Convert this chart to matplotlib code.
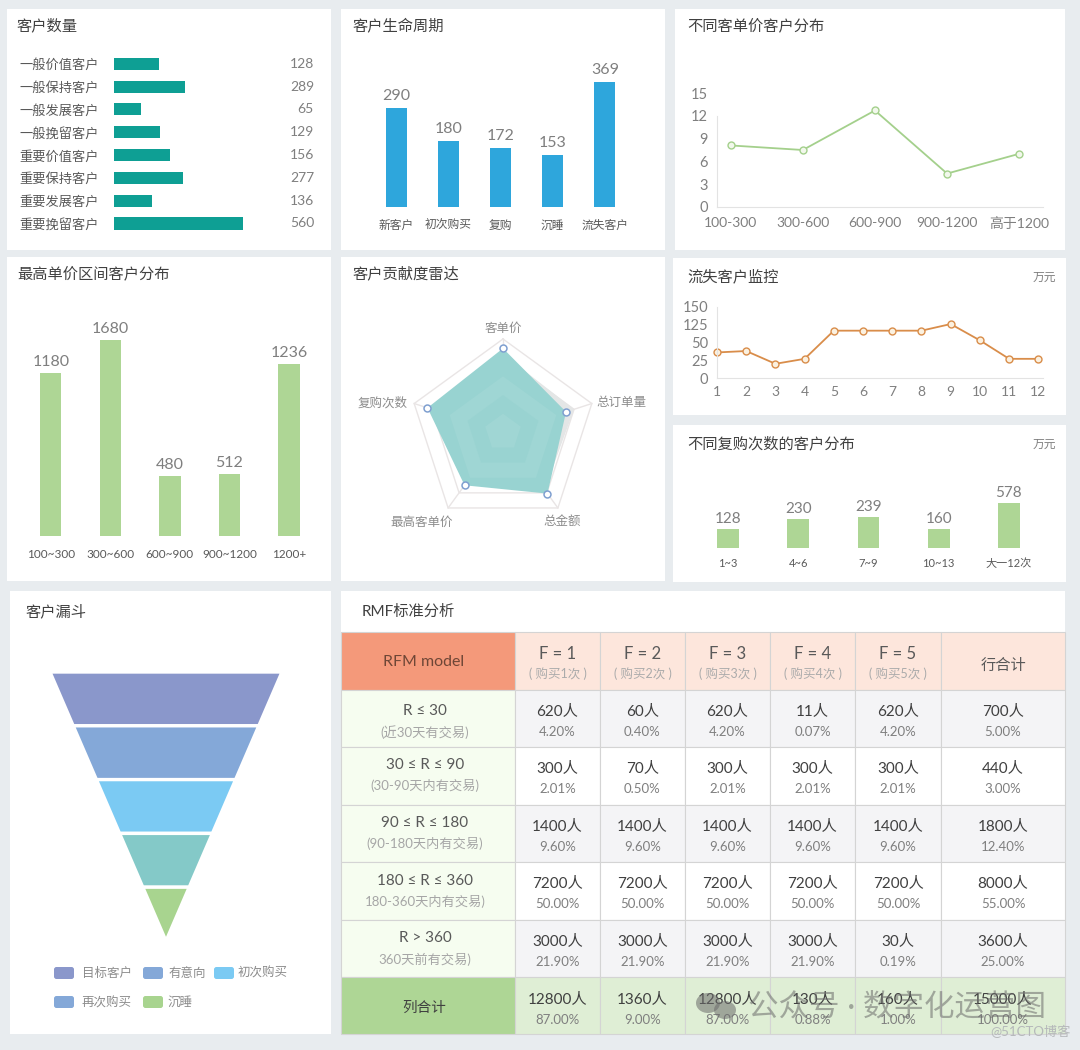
#!/usr/bin/env python3
"""Customer analysis dashboard: bars, lines, radar, funnel and the RFM table."""

import numpy as np
import matplotlib
matplotlib.use("Agg")
import matplotlib.pyplot as plt
from matplotlib.patches import Rectangle, FancyBboxPatch, Ellipse

plt.rcParams["font.family"] = ["Lato", "Noto Sans CJK SC", "DejaVu Sans"]

W, H = 1080, 1050

# 客户数量 (shown numbers do not match the drawn bar lengths in the source)
seg_names = ["一般价值客户", "一般保持客户", "一般发展客户", "一般挽留客户",
             "重要价值客户", "重要保持客户", "重要发展客户", "重要挽留客户"]
seg_values = [128, 289, 65, 129, 156, 277, 136, 560]
seg_bars = [195, 308, 117, 200, 243, 300, 165, 560]

# 客户生命周期
life_names = ["新客户", "初次购买", "复购", "沉睡", "流失客户"]
life_values = [290, 180, 172, 153, 369]
life_bars = [292, 195, 174, 153, 369]

# 不同客单价客户分布
price_names = ["100-300", "300-600", "600-900", "900-1200", "高于1200"]
price_values = [8.1, 7.5, 12.7, 4.4, 7.0]
price_ticks = [0, 3, 6, 9, 12, 15]

# 最高单价区间客户分布
top_names = ["100~300", "300~600", "600~900", "900~1200", "1200+"]
top_values = [1180, 1680, 480, 512, 1236]
top_bars = [1397, 1680, 514, 531, 1474]

# 客户贡献度雷达
radar_names = ["客单价", "总订单量", "总金额", "最高客单价", "复购次数"]
radar_a = [0.90, 0.71, 0.81, 0.70, 0.85]
radar_b = [0.84, 0.80, 0.76, 0.66, 0.76]

# 流失客户监控 (axis labels in the source skip 75 and 100)
churn_months = list(range(1, 13))
churn_values = [36, 38, 20, 27, 100, 100, 100, 100, 126, 59, 27, 27]
churn_ticks = [0, 25, 50, 125, 150]

# 不同复购次数的客户分布
repeat_names = ["1~3", "4~6", "7~9", "10~13", "大一12次"]
repeat_values = [128, 230, 239, 160, 578]
repeat_bars = [244, 372, 398, 244, 578]

# 客户漏斗
funnel_names = ["目标客户", "有意向", "初次购买", "再次购买", "沉睡"]
funnel_values = [100, 80, 60, 40, 20]
funnel_colors = ["#8a97cb", "#84a8d8", "#7bcaf3", "#84c9c8", "#a8d48f"]
legend_colors = ["#8a97cb", "#84a8d8", "#7bcaf3", "#84a8d8", "#a8d48f"]

# RFM 表
col_main = ["F = 1", "F = 2", "F = 3", "F = 4", "F = 5"]
col_sub = ["( 购买1次 )", "( 购买2次 )", "( 购买3次 )", "( 购买4次 )", "( 购买5次 )"]
row_main = ["R ≤ 30", "30 ≤ R ≤ 90", "90 ≤ R ≤ 180", "180 ≤ R ≤ 360", "R > 360"]
row_sub = ["(近30天有交易)", "(30-90天内有交易)", "(90-180天内有交易)",
           "180-360天内有交易)", "360天前有交易)"]
people = [
    [620, 60, 620, 11, 620, 700],
    [300, 70, 300, 300, 300, 440],
    [1400, 1400, 1400, 1400, 1400, 1800],
    [7200, 7200, 7200, 7200, 7200, 8000],
    [3000, 3000, 3000, 3000, 30, 3600],
    [12800, 1360, 12800, 130, 160, 15000],
]
shares = [
    ["4.20%", "0.40%", "4.20%", "0.07%", "4.20%", "5.00%"],
    ["2.01%", "0.50%", "2.01%", "2.01%", "2.01%", "3.00%"],
    ["9.60%", "9.60%", "9.60%", "9.60%", "9.60%", "12.40%"],
    ["50.00%", "50.00%", "50.00%", "50.00%", "50.00%", "55.00%"],
    ["21.90%", "21.90%", "21.90%", "21.90%", "0.19%", "25.00%"],
    ["87.00%", "9.00%", "87.00%", "0.88%", "1.00%", "100.00%"],
]

GRAY = "#7f7f7f"
DARK = "#404040"
TEAL = "#0e9f94"
BLUE = "#2ea6dc"
GREEN = "#aed695"
AXIS = "#e3e3e3"

fig = plt.figure(figsize=(W / 100, H / 100), dpi=100, facecolor="#e8ecef")


def px_axes(x0, y0, x1, y1, **kw):
    """Axes placed by pixel box, y measured from the top of the image."""
    ax = fig.add_axes([x0 / W, 1 - y1 / H, (x1 - x0) / W, (y1 - y0) / H], **kw)
    ax.patch.set_alpha(0)
    ax.set_zorder(1)
    return ax


def clean(ax, left=False):
    for side in ["top", "right", "left", "bottom"]:
        ax.spines[side].set_visible(False)
    ax.tick_params(length=0, colors=GRAY)
    if not left:
        ax.set_yticks([])


# page layer: panels, titles, legend and table use image pixels directly
bg = fig.add_axes([0, 0, 1, 1])
bg.set_xlim(0, W)
bg.set_ylim(H, 0)
bg.axis("off")
bg.set_zorder(0)

panels = [
    (7, 9, 331, 250, "客户数量", 17, 26),
    (341, 9, 665, 250, "客户生命周期", 353, 26),
    (675, 9, 1065, 250, "不同客单价客户分布", 687, 26),
    (7, 257, 331, 581, "最高单价区间客户分布", 17, 274),
    (341, 257, 665, 581, "客户贡献度雷达", 353, 274),
    (673, 258, 1066, 415, "流失客户监控", 687, 277),
    (673, 425, 1066, 582, "不同复购次数的客户分布", 687, 444),
    (10, 591, 331, 1034, "客户漏斗", 26, 612),
    (341, 591, 1065, 1034, "RMF标准分析", 362, 612),
]
for x0, y0, x1, y1, title, tx, ty in panels:
    bg.add_patch(Rectangle((x0, y0), x1 - x0, y1 - y0, fc="white", ec="none"))
    bg.text(tx, ty, title, fontsize=11, color=DARK, va="center", ha="left")
for ty in [277, 444]:
    bg.text(1056, ty, "万元", fontsize=8.5, color=GRAY, va="center", ha="right")

# 客户数量
ax = px_axes(114, 52, 314, 236)
clean(ax, left=True)
ypos = np.arange(len(seg_names))
ax.barh(ypos, seg_bars, height=0.53, color=TEAL)
ax.set_xlim(0, 868)
ax.set_ylim(7.55, -0.52)
ax.set_xticks([])
ax.set_yticks(ypos, seg_names, fontsize=9.5, ha="left", color="#595959")
ax.tick_params(axis="y", pad=68.4)
for y, v in zip(ypos, seg_values):
    ax.text(1, y, str(v), transform=ax.get_yaxis_transform(), ha="right",
            va="center", fontsize=10, color=GRAY)

# 客户生命周期
ax = px_axes(370, 50, 631, 207)
clean(ax)
xpos = np.arange(len(life_names))
ax.bar(xpos, life_bars, width=0.4, color=BLUE)
ax.set_xlim(-0.5, 4.5)
ax.set_ylim(0, 463)
ax.set_xticks(xpos, life_names, fontsize=8.5, color="#595959")
ax.tick_params(axis="x", pad=9)
for x, b, v in zip(xpos, life_bars, life_values):
    ax.annotate(str(v), (x, b), xytext=(0, 6), textcoords="offset points",
                ha="center", fontsize=11.5, color=GRAY)

# 不同客单价客户分布
ax = px_axes(717, 93, 1043, 207)
clean(ax, left=True)
xpos = np.arange(len(price_names))
ax.plot(xpos, price_values, color="#a4d08c", lw=1.3, marker="o", ms=5,
        mfc="#f2f8ec", mec="#a4d08c", mew=1, clip_on=False)
ax.set_xlim(-0.19, 4.33)
ax.set_ylim(0, 15)
ax.set_xticks(xpos, price_names, fontsize=10)
ax.set_yticks(price_ticks)
ax.tick_params(axis="y", labelsize=10.5, pad=6.5)
ax.tick_params(axis="x", pad=7)
ax.spines["bottom"].set_visible(True)
ax.spines["bottom"].set_color(AXIS)
ax.spines["left"].set_visible(True)
ax.spines["left"].set_color(AXIS)
ax.spines["left"].set_bounds(0, 12)

# 最高单价区间客户分布
ax = px_axes(21, 310, 330, 536)
clean(ax)
xpos = np.arange(len(top_names))
ax.bar(xpos, top_bars, width=0.36, color=GREEN)
ax.set_xlim(-0.5, 4.69)
ax.set_ylim(0, 1937)
ax.set_xticks(xpos, top_names, fontsize=8.5, color="#595959")
ax.tick_params(axis="x", pad=9)
for x, b, v in zip(xpos, top_bars, top_values):
    ax.annotate(str(v), (x, b), xytext=(0, 5), textcoords="offset points",
                ha="center", fontsize=11.5, color=GRAY)

# 客户贡献度雷达
r_px = 93.4
ax = px_axes(503 - r_px, 432.4 - r_px, 503 + r_px, 432.4 + r_px, projection="polar")
ax.set_theta_zero_location("N")
ax.set_theta_direction(-1)
ax.set_ylim(0, 1)
ax.axis("off")
theta = np.deg2rad(np.arange(5) * 72.0)
closed = np.append(theta, theta[0])
for level in [1.0, 0.8, 0.6, 0.4, 0.2]:
    ax.plot(closed, [level] * 6, color="#e9e5e5", lw=1, zorder=1.5, clip_on=False)
for t in theta:
    ax.plot([t, t], [0, 1], color="#e9e5e5", lw=1, zorder=1.5, clip_on=False)
ax.fill(closed, radar_b + radar_b[:1], color="#e4e6e6", zorder=2, lw=0)
front = ax.fill(closed, radar_a + radar_a[:1], color="#98d3d1", zorder=3, lw=0)[0]
# lighter and darker rings seen through the filled area
for level, shade, alpha in [(0.6, "white", 0.07), (0.4, "#98d3d1", 0.8), (0.2, "white", 0.07)]:
    ring = ax.fill(closed, [level] * 6, color=shade, alpha=alpha, zorder=3.5, lw=0)[0]
    ring.set_clip_path(front)
ax.plot(theta, radar_a, ls="none", marker="o", ms=5, mfc="white", mec="#7f9fd0",
        mew=1.1, zorder=4, clip_on=False)
label_offsets = [(0, 11), (30, 2), (4, -13), (-26, -14), (-32, 1)]
for t, name, off in zip(theta, radar_names, label_offsets):
    ax.annotate(name, (t, 1), xytext=off, textcoords="offset pixels", ha="center",
                va="center", fontsize=9, color="#8c8c8c", annotation_clip=False)

# 流失客户监控: axis positions follow the printed labels, evenly spaced
churn_steps = np.arange(len(churn_ticks))
ax = px_axes(717, 307, 1043, 378)
clean(ax, left=True)
ax.set_yscale("function", functions=(
    lambda v: np.interp(v, churn_ticks, churn_steps),
    lambda s: np.interp(s, churn_steps, churn_ticks),
))
ax.plot(churn_months, churn_values, color="#d98d4a", lw=1.3, marker="o", ms=5,
        mfc="#fbf1e0", mec="#d98d4a", mew=1, clip_on=False)
ax.set_xlim(1, 12.16)
ax.set_ylim(0, 150)
ax.set_xticks(churn_months, [str(m) for m in churn_months], fontsize=10)
ax.set_yticks(churn_ticks, [str(t) for t in churn_ticks], fontsize=10.5)
ax.minorticks_off()
ax.tick_params(axis="y", pad=6.5)
ax.tick_params(axis="x", pad=6)
ax.spines["bottom"].set_visible(True)
ax.spines["bottom"].set_color(AXIS)
ax.spines["left"].set_visible(True)
ax.spines["left"].set_color(AXIS)

# 不同复购次数的客户分布
ax = px_axes(693, 480, 1044, 548)
clean(ax)
xpos = np.arange(len(repeat_names))
ax.bar(xpos, repeat_bars, width=0.31, color=GREEN)
ax.set_xlim(-0.5, 4.5)
ax.set_ylim(0, 873)
ax.set_xticks(xpos, repeat_names, fontsize=8, color="#595959")
ax.tick_params(axis="x", pad=7)
for x, b, v in zip(xpos, repeat_bars, repeat_values):
    ax.annotate(str(v), (x, b), xytext=(0, 4), textcoords="offset points",
                ha="center", fontsize=11, color=GRAY)

# 客户漏斗
ax = px_axes(50, 672, 282, 941)
ax.axis("off")
ax.set_xlim(-50, 50)
ax.set_ylim(len(funnel_values), 0)
next_values = funnel_values[1:] + [0]
for i, (top, low, color) in enumerate(zip(funnel_values, next_values, funnel_colors)):
    ax.fill([-top / 2, top / 2, low / 2, -low / 2], [i, i, i + 1, i + 1], fc=color,
            ec="white", lw=2.4, clip_on=False)

legend_boxes = [(54, 973, 28), (143, 973, 25), (214, 973, 24), (54, 1002, 28), (143, 1002, 25)]
for (lx, ly, gap), name, color in zip(legend_boxes, funnel_names, legend_colors):
    bg.add_patch(FancyBboxPatch((lx, ly - 6), 20, 12,
                                boxstyle="round,pad=0,rounding_size=2.5",
                                fc=color, ec="none"))
    bg.text(lx + gap, ly, name, fontsize=9, color="#8c8c8c", va="center", ha="left")

# RFM 表
col_edges = [341, 515, 600, 685, 770, 855, 941, 1065]
row_edges = [632, 690, 747, 805, 862, 920, 977, 1034]
row_head_dy = [21, 18, 18, 19, 18]
LINE = "#d4d4d4"


def cell(c0, c1, r0, r1, color):
    bg.add_patch(Rectangle((c0, r0), c1 - c0, r1 - r0, fc=color, ec=LINE, lw=0.8))


cell(col_edges[0], col_edges[1], row_edges[0], row_edges[1], "#f4997a")
bg.text(424, 662, "RFM model", fontsize=11.5, color="#6e4636", ha="center", va="center")
for c in range(1, 7):
    left, right = col_edges[c], col_edges[c + 1]
    mid = (left + right) / 2
    cell(left, right, row_edges[0], row_edges[1], "#fde6dc")
    if c < 6:
        bg.text(mid, 654, col_main[c - 1], fontsize=12, color="#595959",
                ha="center", va="center")
        bg.text(mid, 674, col_sub[c - 1], fontsize=9, color="#ababab",
                ha="center", va="center")
    else:
        bg.text(mid + 1, 666, "行合计", fontsize=11, color="#595959", ha="center", va="center")

for r in range(6):
    top, low = row_edges[r + 1], row_edges[r + 2]
    last = r == 5
    cell(col_edges[0], col_edges[1], top, low, GREEN if last else "#f6fdf0")
    if last:
        bg.text(424, 1008, "列合计", fontsize=10.5, color="#404040", ha="center", va="center")
    else:
        dy = row_head_dy[r]
        bg.text(425, top + dy, row_main[r], fontsize=11, color="#595959",
                ha="center", va="center")
        bg.text(425, top + dy + 21, row_sub[r], fontsize=9.5, color="#a6a6a6",
                ha="center", va="center")
    fill = "#dfeed5" if last else ("#f4f4f6" if r % 2 == 0 else "white")
    cell_dy = 22 if last else 21
    for c in range(6):
        left, right = col_edges[c + 1], col_edges[c + 2]
        mid = (left + right) / 2
        cell(left, right, top, low, fill)
        bg.text(mid, top + cell_dy, f"{people[r][c]}人", fontsize=11, color="#404040",
                ha="center", va="center")
        bg.text(mid, top + cell_dy + 21, shares[r][c], fontsize=9.5, color="#7f7f7f",
                ha="center", va="center")

# watermark over the bottom right corner
fig.text(748 / W, 1 - 1006 / H, "公众号 · 数字化运营图", fontsize=22, color="#6b6b6b",
         alpha=0.55, ha="left", va="center", zorder=5)
fig.text(1071 / W, 1 - 1031 / H, "@51CTO博客", fontsize=9.5, color="#b5b8ba",
         ha="right", va="center", zorder=5)
mark = px_axes(690, 985, 750, 1025)
mark.set_zorder(4)
mark.axis("off")
mark.set_xlim(690, 750)
mark.set_ylim(1025, 985)
mark.add_patch(Ellipse((708, 1003), 24, 20, fc="#6b6b6b", alpha=0.55, ec="none"))
mark.add_patch(Ellipse((725, 1010), 22, 18, fc="#6b6b6b", alpha=0.55, ec="none"))

fig.savefig("out.png", dpi=100, facecolor=fig.get_facecolor())
